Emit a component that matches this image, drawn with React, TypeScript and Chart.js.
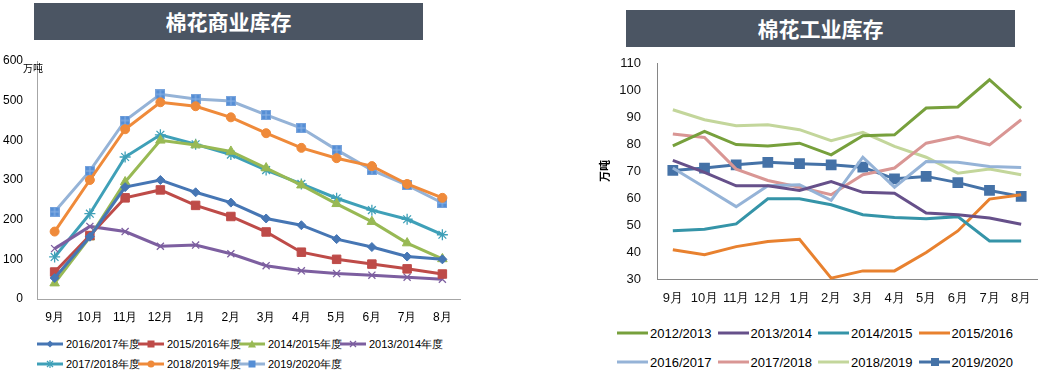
import React, { useEffect, useRef } from 'react';
import { Chart, registerables } from 'chart.js';
Chart.register(...registerables);

const months = ['9月', '10月', '11月', '12月', '1月', '2月', '3月', '4月', '5月', '6月', '7月', '8月'];

// 棉花商业库存 (万吨)
const leftNames = ['2016/2017年度', '2015/2016年度', '2014/2015年度', '2013/2014年度', '2017/2018年度', '2018/2019年度', '2019/2020年度'];
const c2016_2017 = [53, 157, 282, 300, 269, 243, 203, 186, 151, 131, 107, 100];
const c2015_2016 = [68, 160, 255, 275, 236, 208, 169, 118, 100, 88, 76, 63];
const c2014_2015 = [40, 156, 295, 400, 388, 372, 330, 287, 240, 195, 141, 101];
const c2013_2014 = [127, 183, 170, 133, 136, 114, 84, 71, 64, 60, 55, 50];
const c2017_2018 = [106, 215, 358, 414, 390, 364, 325, 290, 254, 224, 201, 162];
const c2018_2019 = [170, 300, 428, 496, 486, 458, 418, 381, 355, 335, 290, 255];
const c2019_2020 = [220, 323, 450, 516, 504, 499, 464, 431, 376, 325, 287, 242];
const leftTicks = [0, 100, 200, 300, 400, 500, 600];

// 棉花工业库存 (万吨)
const rightNames = ['2012/2013', '2013/2014', '2014/2015', '2015/2016', '2016/2017', '2017/2018', '2018/2019', '2019/2020'];
const i2012_2013 = [79.3, 84.7, 79.8, 79.3, 80.3, 76.0, 83.1, 83.4, 93.3, 93.7, 103.8, 93.3];
const i2013_2014 = [73.9, 69.5, 64.5, 64.5, 62.8, 66.1, 62.1, 61.8, 54.4, 53.8, 52.6, 50.3];
const i2014_2015 = [47.9, 48.4, 50.4, 59.7, 59.7, 57.5, 53.8, 52.8, 52.3, 53.1, 44.1, 44.1];
const i2015_2016 = [40.8, 39.0, 42.0, 43.9, 44.7, 30.3, 33.0, 33.0, 39.8, 47.8, 59.6, 61.2];
const i2016_2017 = [71.1, 64.0, 56.8, 64.5, 64.9, 59.1, 75.1, 64.0, 73.5, 73.2, 71.7, 71.3];
const i2017_2018 = [83.7, 82.4, 70.7, 66.5, 64.0, 61.2, 68.6, 71.1, 80.3, 82.8, 79.7, 89.0];
const i2018_2019 = [92.7, 89.0, 86.8, 87.1, 85.3, 81.2, 84.3, 79.1, 75.1, 69.2, 70.7, 68.6];
const i2019_2020 = [70.2, 71.1, 72.3, 73.2, 72.7, 72.3, 71.4, 67.1, 68.0, 65.7, 62.8, 60.6];
const rightTicks = [30, 40, 50, 60, 70, 80, 90, 100, 110];

const leftData = [c2016_2017, c2015_2016, c2014_2015, c2013_2014, c2017_2018, c2018_2019, c2019_2020];
const leftLineColors = ['#4676b4', '#be4b48', '#98b954', '#7d5fa0', '#3fa0b8', '#ef8a3a', '#95b3d7'];
const leftPointColors = ['#4676b4', '#be4b48', '#98b954', '#7d5fa0', '#3fa0b8', '#ef8a3a', '#558ed5'];
const leftPointStyles = ['rectRot', 'rect', 'triangle', 'crossRot', 'star', 'circle', 'tile'];
const leftPointRadius = [4.5, 6, 5.5, 5, 5.5, 4.5, 6.5];

const rightData = [i2012_2013, i2013_2014, i2014_2015, i2015_2016, i2016_2017, i2017_2018, i2018_2019, i2019_2020];
const rightColors = ['#77a03c', '#66508a', '#3594a8', '#e8812f', '#95b3d7', '#d99694', '#c3d69b', '#4572a7'];

const FONT = '"Liberation Sans", Arial, sans-serif';
const CJK = '"Noto Sans CJK SC", sans-serif';

function makeTile(): HTMLCanvasElement {
  const cv = document.createElement('canvas');
  cv.width = 10;
  cv.height = 10;
  const ctx = cv.getContext('2d')!;
  ctx.fillStyle = '#558ed5';
  ctx.fillRect(0, 0, 10, 10);
  ctx.fillStyle = '#8db3e6';
  ctx.fillRect(4.5, 0, 1, 10);
  ctx.fillRect(0, 4.5, 10, 1);
  ctx.strokeStyle = '#7aa5dd';
  ctx.lineWidth = 1;
  ctx.strokeRect(0.5, 0.5, 9, 9);
  return cv;
}

function LeftMarker({ idx }: { idx: number }) {
  const c = leftPointColors[idx];
  const lc = leftLineColors[idx];
  let m: any = null;
  switch (leftPointStyles[idx]) {
    case 'rectRot':
      m = <polygon points="13,1.5 16.5,5 13,8.5 9.5,5" fill={c} />; break;
    case 'rect':
    case 'tile':
      m = <rect x={9.5} y={1.5} width={7} height={7} fill={c} />; break;
    case 'triangle':
      m = <polygon points="13,1 17,8.5 9,8.5" fill={c} />; break;
    case 'crossRot':
      m = <g stroke={c} strokeWidth={1.2}><line x1={10} y1={2} x2={16} y2={8} /><line x1={16} y1={2} x2={10} y2={8} /></g>; break;
    case 'star':
      m = <g stroke={c} strokeWidth={1.2}><line x1={10} y1={2} x2={16} y2={8} /><line x1={16} y1={2} x2={10} y2={8} /><line x1={13} y1={1} x2={13} y2={9} /></g>; break;
    case 'circle':
      m = <circle cx={13} cy={5} r={3.5} fill={c} />; break;
  }
  return (
    <svg width={26} height={10} style={{ display: 'block' }}>
      <line x1={0} y1={5} x2={26} y2={5} stroke={lc} strokeWidth={3} />
      {m}
    </svg>
  );
}

function RightMarker({ idx }: { idx: number }) {
  const c = rightColors[idx];
  return (
    <svg width={31} height={10} style={{ display: 'block' }}>
      <line x1={0} y1={5} x2={31} y2={5} stroke={c} strokeWidth={3} />
      {idx === 7 ? <rect x={12} y={1} width={8} height={8} fill={c} /> : null}
    </svg>
  );
}

export default function App() {
  const leftRef = useRef<HTMLCanvasElement>(null);
  const rightRef = useRef<HTMLCanvasElement>(null);

  useEffect(() => {
    const tile = makeTile();
    const lc = new Chart(leftRef.current!, {
      type: 'line',
      data: {
        labels: months,
        datasets: leftData.map((d, i) => ({
          label: leftNames[i],
          data: d,
          borderColor: leftLineColors[i],
          backgroundColor: leftPointColors[i],
          borderWidth: 3,
          pointStyle: (leftPointStyles[i] === 'tile' ? tile : leftPointStyles[i]) as any,
          pointRadius: leftPointRadius[i],
          pointBackgroundColor: leftPointColors[i],
          pointBorderColor: leftPointColors[i],
          pointBorderWidth: leftPointStyles[i] === 'crossRot' || leftPointStyles[i] === 'star' ? 1.3 : 1,
          tension: 0,
          clip: 20,
        })),
      },
      options: {
        responsive: false,
        animation: false,
        layout: { autoPadding: false, padding: { top: 11, right: 60, bottom: 0, left: 0 } },
        plugins: { legend: { display: false }, tooltip: { enabled: false } },
        scales: {
          x: {
            offset: true,
            grid: { display: true, drawOnChartArea: false, drawTicks: true, tickLength: 11, color: 'rgba(0,0,0,0)' },
            border: { display: true, color: '#a6a6a6', width: 1 },
            ticks: { color: '#000', font: { family: FONT, size: 12 }, padding: 0, maxRotation: 0, autoSkip: false },
            afterFit: (s: any) => { s.height = 31; },
          },
          y: {
            min: 0,
            max: 600,
            afterBuildTicks: (s: any) => { s.ticks = leftTicks.map((v) => ({ value: v })); },
            grid: { display: true, drawOnChartArea: false, drawTicks: true, tickLength: 14, color: 'rgba(0,0,0,0)' },
            border: { display: true, color: '#a6a6a6', width: 1 },
            ticks: { color: '#000', font: { family: FONT, size: 12 }, padding: 0 },
            afterFit: (s: any) => { s.width = 37; },
          },
        },
      },
    });

    const rc = new Chart(rightRef.current!, {
      type: 'line',
      data: {
        labels: months,
        datasets: rightData.map((d, i) => ({
          label: rightNames[i],
          data: d,
          borderColor: rightColors[i],
          backgroundColor: rightColors[i],
          borderWidth: 3,
          pointStyle: 'rect' as any,
          pointRadius: i === 7 ? 5.5 : 0,
          pointBackgroundColor: rightColors[i],
          pointBorderColor: rightColors[i],
          tension: 0,
          clip: 20,
        })),
      },
      options: {
        responsive: false,
        animation: false,
        layout: { autoPadding: false, padding: { top: 13, right: 3, bottom: 0, left: 0 } },
        plugins: { legend: { display: false }, tooltip: { enabled: false } },
        scales: {
          x: {
            offset: true,
            grid: { display: true, drawOnChartArea: false, drawTicks: true, tickLength: 12, color: 'rgba(0,0,0,0)' },
            border: { display: true, color: '#868686', width: 1 },
            ticks: { color: '#111', font: { family: FONT, size: 13 }, padding: 0, maxRotation: 0, autoSkip: false },
            afterFit: (s: any) => { s.height = 36; },
          },
          y: {
            min: 30,
            max: 110,
            afterBuildTicks: (s: any) => { s.ticks = rightTicks.map((v) => ({ value: v })); },
            grid: { display: true, drawOnChartArea: false, drawTicks: true, tickLength: 16, color: 'rgba(0,0,0,0)' },
            border: { display: true, color: '#868686', width: 1 },
            ticks: { color: '#111', font: { family: FONT, size: 13 }, padding: 0 },
            title: { display: true, text: '万吨', color: '#000', font: { family: CJK, size: 11, weight: 'bold' }, padding: { top: 8, bottom: 0 } },
            afterFit: (s: any) => { s.width = 67; },
          },
        },
      },
    });

    return () => {
      lc.destroy();
      rc.destroy();
    };
  }, []);

  const header = (left: number, top: number, text: string) => (
    <div
      style={{
        position: 'absolute', left, top, width: 389, height: 37, background: '#4b5563',
        color: '#fff', fontFamily: CJK, fontWeight: 'bold', fontSize: 21, lineHeight: '37px', textAlign: 'center',
      }}
    >
      {text}
    </div>
  );

  return (
    <div style={{ position: 'absolute', left: 0, top: 0, width: 1040, height: 374, overflow: 'hidden', background: '#fff' }}>
      {header(34, 3, '棉花商业库存')}
      {header(626, 10, '棉花工业库存')}

      <canvas ref={leftRef} width={520} height={280} style={{ position: 'absolute', left: 0, top: 50, width: 520, height: 280 }} />
      <div style={{ position: 'absolute', left: 23, top: 62, fontFamily: CJK, fontSize: 10, lineHeight: '12px', color: '#000' }}>万吨</div>

      <div style={{ position: 'absolute', left: 37, top: 336, width: 420 }}>
        {leftNames.map((n, i) => (
          <div
            key={n}
            style={{
              position: 'absolute', left: (i % 4) * 101, top: Math.floor(i / 4) * 20,
              display: 'flex', alignItems: 'center', height: 16, whiteSpace: 'nowrap',
            }}
          >
            <LeftMarker idx={i} />
            <span style={{ marginLeft: 3, fontFamily: FONT, fontSize: 11, color: '#000' }}>{n}</span>
          </div>
        ))}
      </div>

      <canvas ref={rightRef} width={450} height={265} style={{ position: 'absolute', left: 590, top: 50, width: 450, height: 265 }} />

      <div style={{ position: 'absolute', left: 617, top: 325, width: 420 }}>
        {rightNames.map((n, i) => (
          <div
            key={n}
            style={{
              position: 'absolute', left: (i % 4) * 100.5, top: Math.floor(i / 4) * 29,
              display: 'flex', alignItems: 'center', height: 16, whiteSpace: 'nowrap',
            }}
          >
            <RightMarker idx={i} />
            <span style={{ marginLeft: 2, fontFamily: FONT, fontSize: 13, color: '#000' }}>{n}</span>
          </div>
        ))}
      </div>
    </div>
  );
}
